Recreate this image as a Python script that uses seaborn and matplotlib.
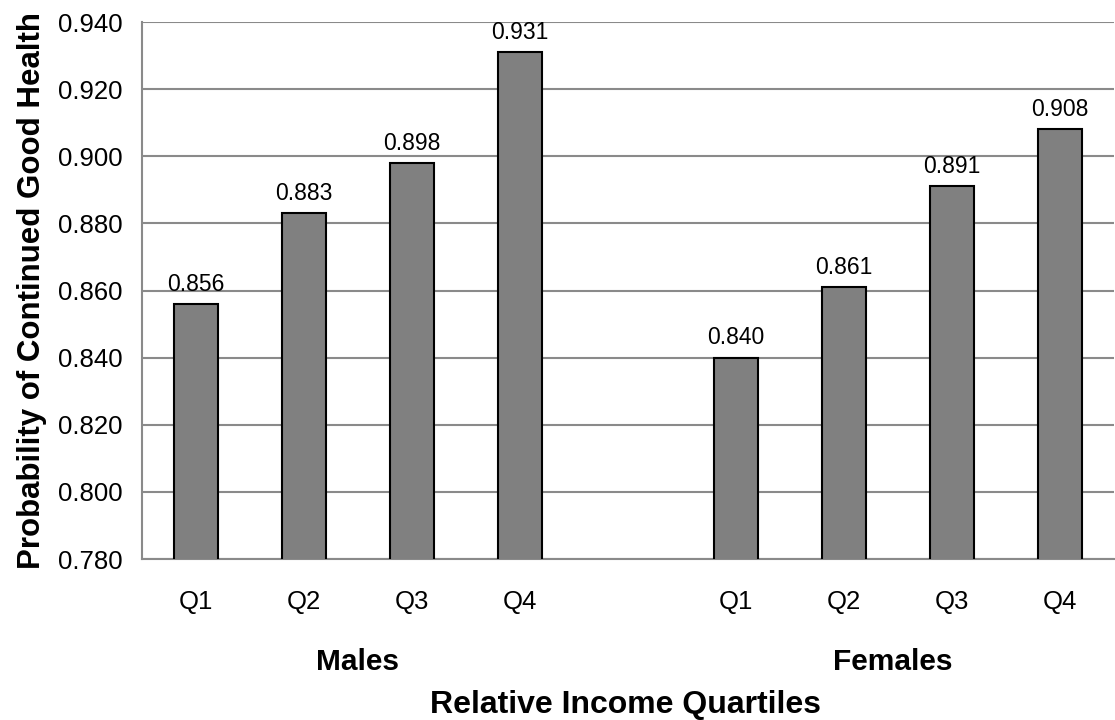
import numpy as np
import pandas as pd
import matplotlib
matplotlib.use("Agg")
import matplotlib.pyplot as plt
import seaborn as sns

# values
quartiles = ["Q1", "Q2", "Q3", "Q4"]
male_probs = [0.856, 0.883, 0.898, 0.931]
female_probs = [0.840, 0.861, 0.891, 0.908]
y_ticks = [0.780, 0.800, 0.820, 0.840, 0.860, 0.880, 0.900, 0.920, 0.940]

# one empty slot between the two groups
slots = [f"Males {q}" for q in quartiles] + ["gap"] + [f"Females {q}" for q in quartiles]
tick_labels = quartiles + [""] + quartiles
values = male_probs + [np.nan] + female_probs
df = pd.DataFrame({"slot": slots, "prob": values})

sns.set_theme(style="white")
plt.rcParams["font.family"] = ["Liberation Sans", "DejaVu Sans"]
plt.rcParams["text.color"] = "black"
plt.rcParams["axes.labelcolor"] = "black"

fig = plt.figure(figsize=(11.15, 7.2), dpi=100)
ax = fig.add_axes([0.1274, 0.2236, 0.8716, 0.7458])

sns.barplot(data=df, x="slot", y="prob", order=slots, color="#808080",
            saturation=1, width=0.41, edgecolor="black", linewidth=1.5, ax=ax, zorder=3)

ax.set_ylim(0.78, 0.94)
ax.set_xlim(-0.5, len(slots) - 0.5)
ax.set_yticks(y_ticks)
ax.set_yticklabels([f"{v:.3f}" for v in y_ticks], fontsize=18.5)
ax.yaxis.grid(True, color="#8a8a8a", linewidth=1.5, zorder=0)

# category labels at centres, tick marks at the boundaries
ax.set_xticks(range(len(slots)))
ax.set_xticklabels(tick_labels, fontsize=18.5)
ax.set_xticks(np.arange(-0.5, len(slots)), minor=True)
ax.tick_params(axis="x", which="major", length=0, pad=22, labelcolor="black")
ax.tick_params(axis="x", which="minor", length=7, width=1.2, color="#777777", direction="out")
ax.tick_params(axis="y", length=8, width=1.2, color="#777777", direction="out", pad=6,
               labelcolor="black")

for side in ["top", "right"]:
    ax.spines[side].set_visible(False)
for side in ["left", "bottom"]:
    ax.spines[side].set_color("#8a8a8a")
    ax.spines[side].set_linewidth(1.5)

for cont in ax.containers:
    ax.bar_label(cont, fmt="%.3f", padding=6, fontsize=16.5, color="black")

ax.set_xlabel("")
ax.set_ylabel("Probability of Continued Good Health", fontsize=22.5, fontweight="bold", labelpad=8)

fig.text(357 / 1115, 1 - 662 / 720, "Males", ha="center", va="center", fontsize=21.5, fontweight="bold")
fig.text(893 / 1115, 1 - 662 / 720, "Females", ha="center", va="center", fontsize=21.5, fontweight="bold")
fig.text(625 / 1115, 1 - 705 / 720, "Relative Income Quartiles", ha="center", va="center",
         fontsize=23, fontweight="bold")

fig.savefig("out.png", dpi=100)
